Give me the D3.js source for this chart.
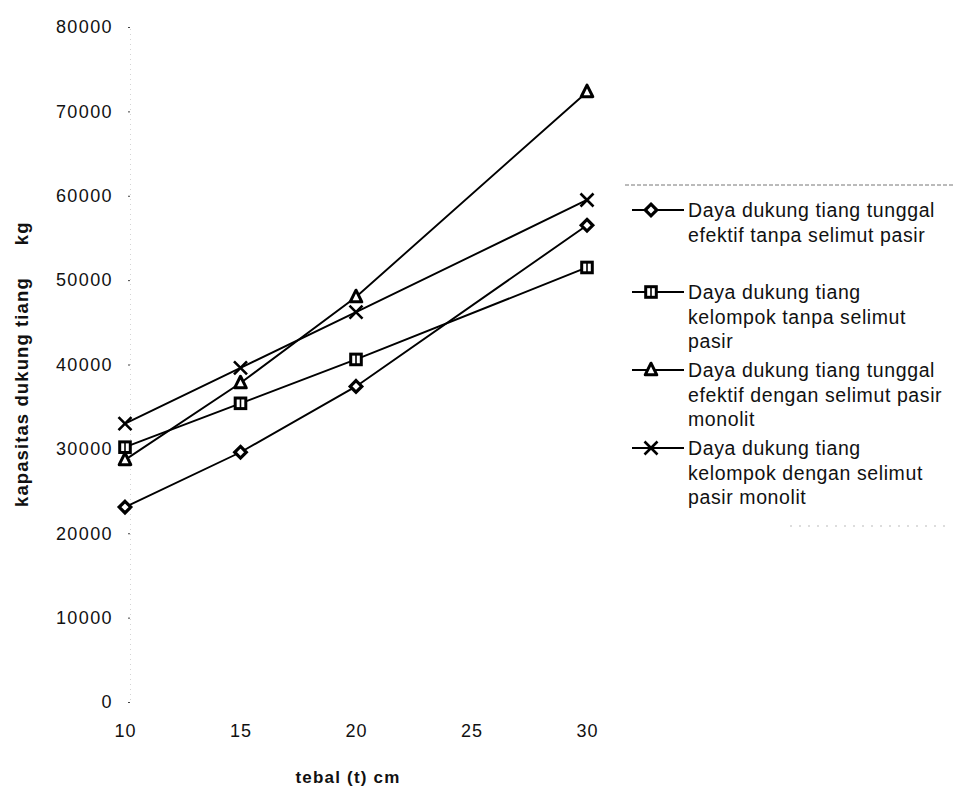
<!DOCTYPE html>
<html>
<head>
<meta charset="utf-8">
<script src="https://cdn.jsdelivr.net/npm/d3@7"></script>
<style>
  html, body { margin: 0; padding: 0; background: #fff; }
  svg { display: block; font-family: "Liberation Sans", Arial, sans-serif; }
</style>
</head>
<body>
<svg id="chart" width="954" height="792"></svg>
<script>
// Pile thickness t (cm) on the x axis
const thickness = [10, 15, 20, 30];
const xTickValues = [10, 15, 20, 25, 30];
const yTickValues = [0, 10000, 20000, 30000, 40000, 50000, 60000, 70000, 80000];

// Bearing capacity (kg) for each configuration
const singleNoSand = [23100, 29600, 37400, 56500];
const groupNoSand = [30200, 35400, 40600, 51500];
const singleWithSand = [28700, 37800, 48000, 72300];
const groupWithSand = [33000, 39600, 46200, 59500];

const legendLabels = [
  ["Daya dukung tiang tunggal", "efektif tanpa selimut pasir"],
  ["Daya dukung tiang", "kelompok tanpa selimut", "pasir"],
  ["Daya dukung tiang tunggal", "efektif dengan selimut pasir", "monolit"],
  ["Daya dukung tiang", "kelompok dengan selimut", "pasir monolit"]
];
const markerTypes = ["diamond", "square", "triangle", "cross"];
const seriesValues = [singleNoSand, groupNoSand, singleWithSand, groupWithSand];

const xTitle = "tebal (t) cm";
const yTitle = "kapasitas dukung tiang";
const yUnit = "kg";

const svg = d3.select("#chart");

const x = d3.scaleLinear().domain([10, 30]).range([125, 587]);
const y = d3.scaleLinear().domain([0, 80000]).range([702, 27]);

// Y axis: faint dotted spine with small dot ticks
const yAxis = svg.append("g")
  .attr("transform", `translate(${x(10) + 5},0)`)
  .call(d3.axisLeft(y).tickValues(yTickValues).tickFormat(d3.format("d")).tickSize(2).tickPadding(15));
yAxis.select(".domain").attr("stroke", "#d4d4d4").attr("stroke-dasharray", "1,4");
yAxis.selectAll(".tick line").attr("stroke", "#444");
yAxis.selectAll(".tick text")
  .attr("font-size", 18).attr("letter-spacing", 1.4).attr("fill", "#111");

// X axis: labels only
const xAxis = svg.append("g")
  .attr("transform", `translate(0,${y(0)})`)
  .call(d3.axisBottom(x).tickValues(xTickValues).tickSize(0).tickPadding(22));
xAxis.select(".domain").remove();
xAxis.selectAll(".tick text")
  .attr("font-size", 18).attr("letter-spacing", 1).attr("fill", "#111");

// Axis titles
svg.append("text")
  .attr("transform", "translate(28,507) rotate(-90)")
  .attr("font-size", 18.5).attr("font-weight", "bold").attr("letter-spacing", 1.1)
  .attr("fill", "#111")
  .call(t => {
    t.append("tspan").text(yTitle);
    t.append("tspan").attr("dx", 32).text(yUnit);
  });

svg.append("text")
  .attr("x", 348).attr("y", 783)
  .attr("text-anchor", "middle")
  .attr("font-size", 17).attr("font-weight", "bold").attr("letter-spacing", 1.2)
  .attr("fill", "#111")
  .text(xTitle);

// Marker drawing
function drawMarker(g, type, cx, cy) {
  const s = 5.8;
  if (type === "diamond") {
    g.append("path")
      .attr("d", `M${cx},${cy - s}L${cx + s},${cy}L${cx},${cy + s}L${cx - s},${cy}Z`)
      .attr("fill", "#fff").attr("stroke", "#000").attr("stroke-width", 3.2);
  } else if (type === "square") {
    g.append("rect")
      .attr("x", cx - s + 0.5).attr("y", cy - s + 0.5)
      .attr("width", 2 * s - 1).attr("height", 2 * s - 1)
      .attr("fill", "#fff").attr("stroke", "#000").attr("stroke-width", 3);
    g.append("line")
      .attr("x1", cx).attr("x2", cx).attr("y1", cy - s + 1).attr("y2", cy + s - 1)
      .attr("stroke", "#000").attr("stroke-width", 1.6);
  } else if (type === "triangle") {
    g.append("path")
      .attr("d", `M${cx},${cy - s - 1}L${cx + s},${cy + s - 1}L${cx - s},${cy + s - 1}Z`)
      .attr("fill", "#fff").attr("stroke", "#000").attr("stroke-width", 3)
      .attr("stroke-linejoin", "round");
  } else {
    const c = 6.5;
    g.append("path")
      .attr("d", `M${cx - c},${cy - c}L${cx + c},${cy + c}M${cx - c},${cy + c}L${cx + c},${cy - c}`)
      .attr("fill", "none").attr("stroke", "#000").attr("stroke-width", 2.6);
  }
}

const line = d3.line().x(d => x(d[0])).y(d => y(d[1]));

const plot = svg.append("g");
seriesValues.forEach((vals, i) => {
  const pts = thickness.map((t, j) => [t, vals[j]]);
  plot.append("path")
    .datum(pts)
    .attr("d", line)
    .attr("fill", "none").attr("stroke", "#000").attr("stroke-width", 1.9);
});
seriesValues.forEach((vals, i) => {
  const g = plot.append("g");
  thickness.forEach((t, j) => drawMarker(g, markerTypes[i], x(t), y(vals[j])));
});

// Legend
const legend = svg.append("g");
legend.append("line")
  .attr("x1", 625).attr("x2", 954).attr("y1", 185).attr("y2", 185)
  .attr("stroke", "#777").attr("stroke-width", 1).attr("stroke-dasharray", "4,2");
legend.append("line")
  .attr("x1", 790).attr("x2", 945).attr("y1", 526).attr("y2", 526)
  .attr("stroke", "#bbb").attr("stroke-width", 1).attr("stroke-dasharray", "2,7");

const legendTops = [210, 292, 370, 448];
const lineStep = 24.5;
legendLabels.forEach((lines, i) => {
  const g = legend.append("g");
  const cy = legendTops[i];
  g.append("line")
    .attr("x1", 632).attr("x2", 684).attr("y1", cy).attr("y2", cy)
    .attr("stroke", "#000").attr("stroke-width", 1.9);
  drawMarker(g, markerTypes[i], 651, cy);
  lines.forEach((txt, k) => {
    g.append("text")
      .attr("x", 688).attr("y", cy + k * lineStep)
      .attr("dy", "0.36em")
      .attr("font-size", 19.5).attr("letter-spacing", 0.6)
      .attr("fill", "#111")
      .text(txt);
  });
});
</script>
</body>
</html>
